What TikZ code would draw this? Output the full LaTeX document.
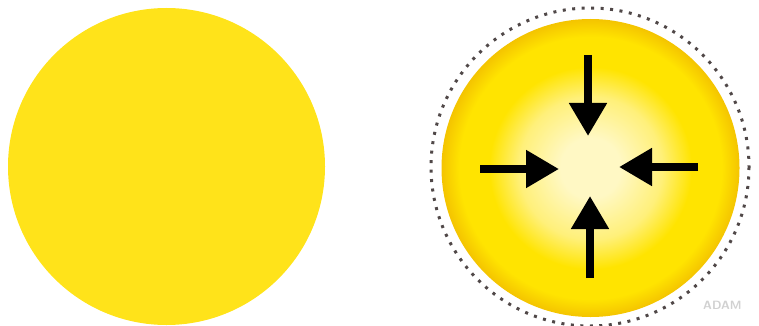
\documentclass[tikz,border=0pt]{standalone}
\usetikzlibrary{arrows.meta}
\definecolor{sunyellow}{HTML}{FFE31A}
\definecolor{rimyellow}{HTML}{F4C400}
\definecolor{midyellow}{HTML}{FFE400}
\definecolor{lightyellow}{HTML}{FFF07A}
\definecolor{paleyellow}{HTML}{FFF8C4}
\definecolor{dotgray}{HTML}{504848}
\pgfdeclareradialshading{sunshade}{\pgfpoint{0bp}{0bp}}{%
  color(0bp)=(paleyellow); color(5bp)=(paleyellow); color(12bp)=(lightyellow);
  color(17bp)=(midyellow); color(22bp)=(midyellow); color(25bp)=(rimyellow); color(50bp)=(rimyellow)}
\begin{document}
\begin{tikzpicture}[x=1pt,y=-1pt,
  push/.style={line width=8pt,-{Triangle[length=33pt,width=36pt]}}]
\useasboundingbox (0,0) rectangle (759,326);
% left circle
\fill[sunyellow] (166.5,166.5) circle[radius=158.5];
% right circle
\coordinate (c) at (590.5,168);
\shade[shading=sunshade] (c) circle[radius=149];
\draw[dotgray,line width=3pt,dash pattern=on 3pt off 6.5pt] (590,167) circle[radius=159];
% arrows
\coordinate (t0) at (588,55);  \coordinate (t1) at (588,136);
\coordinate (l0) at (480,169); \coordinate (l1) at (559,169);
\coordinate (r0) at (698,167); \coordinate (r1) at (619,167);
\coordinate (b0) at (590,278); \coordinate (b1) at (590,196);
\draw[push] (t0) -- (t1);
\draw[push] (l0) -- (l1);
\draw[push] (r0) -- (r1);
\draw[push] (b0) -- (b1);
\node[text=black!18,font=\sffamily\bfseries\fontsize{12}{12}\selectfont,anchor=west,inner sep=0] (wm) at (703,305) {ADAM};
\end{tikzpicture}
\end{document}
